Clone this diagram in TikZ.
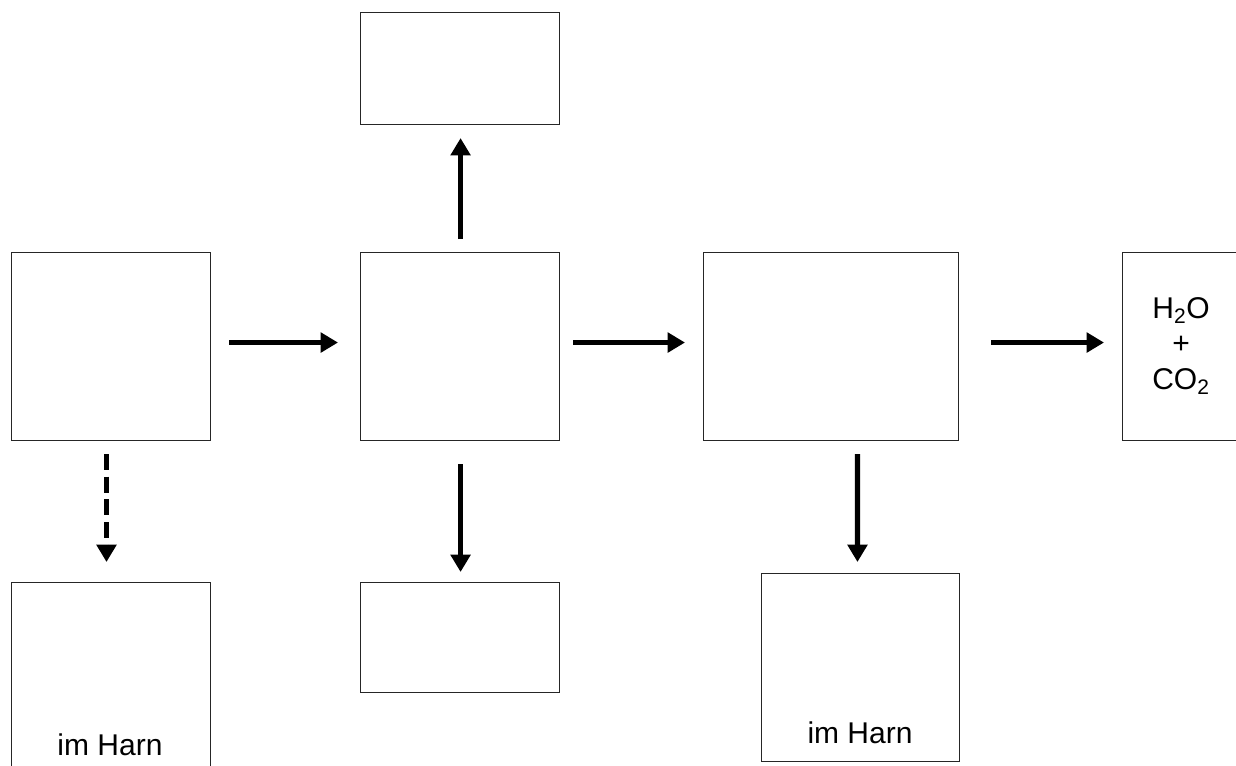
\documentclass[tikz,border=0pt]{standalone}
\usepackage{fontspec}
\setmainfont{Liberation Sans}
\usetikzlibrary{arrows.meta}
\begin{document}
\begin{tikzpicture}[x=0.75pt,y=-0.75pt,
  box/.style={draw=black!85,line width=0.8pt,inner sep=0pt,anchor=north west},
  lbl/.style={font=\fontsize{22.5}{27}\selectfont,inner sep=0pt,align=center},
  arr/.style={line width=4pt,-{Triangle[length=13pt,width=14.5pt]}},
  darr/.style={arr,dash pattern=on 12pt off 5pt}]
\useasboundingbox (0,0) rectangle (1236,765);
\node[box,minimum width=149.25pt,minimum height=141pt] (A) at (11,252) {};
\node[box,minimum width=149.25pt,minimum height=141pt] (B) at (360,252) {};
\node[box,minimum width=149.25pt,minimum height=84pt] (T) at (360,12) {};
\node[box,minimum width=149.25pt,minimum height=82.5pt] (BC) at (360,582) {};
\node[box,minimum width=191.25pt,minimum height=141pt] (C) at (703,252) {};
\node[box,minimum width=88.5pt,minimum height=141pt] (R) at (1122,252) {};
\node[box,minimum width=149.25pt,minimum height=150pt] (BL) at (11,582) {};
\node[box,minimum width=148.5pt,minimum height=141pt] (BR) at (761,573) {};
\node[lbl] (Rt) at (1181,346) {H\textsubscript{2}O\\[-0.5pt]+\\[-0.5pt]CO\textsubscript{2}};
\node[lbl] (BLt) at (110,745) {im Harn};
\node[lbl] (BRt) at (860,733) {im Harn};
\draw[arr] ([xshift=13.5pt,yshift=3pt]A.east) -- ([xshift=-16.5pt,yshift=3pt]B.west);
\draw[arr] ([xshift=9.75pt,yshift=3pt]B.east) -- ([xshift=-13.5pt,yshift=3pt]C.west);
\draw[arr] ([xshift=24pt,yshift=3pt]C.east) -- ([xshift=-13.5pt,yshift=3pt]R.west);
\draw[arr] ([xshift=0.4pt,yshift=9.75pt]B.north) -- ([xshift=0.4pt,yshift=-9.75pt]T.south);
\draw[arr] ([xshift=0.4pt,yshift=-17.25pt]B.south) -- ([xshift=0.4pt,yshift=7.5pt]BC.north);
\draw[darr] ([xshift=-3.4pt,yshift=-9.75pt]A.south) -- ([xshift=-3.4pt,yshift=15pt]BL.north);
\draw[arr] ([xshift=19.9pt,yshift=-9.75pt]C.south) -- ([xshift=-2.3pt,yshift=8.25pt]BR.north);
\end{tikzpicture}
\end{document}
